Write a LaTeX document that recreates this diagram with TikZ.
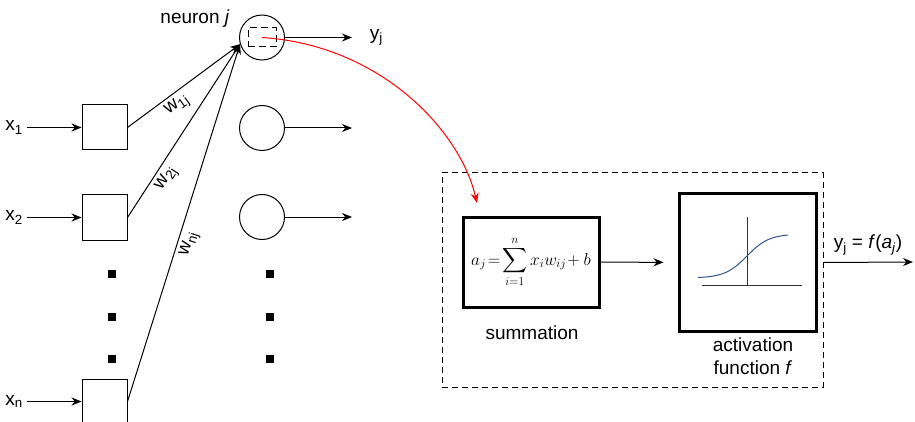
\documentclass[tikz,border=0pt]{standalone}
\usepackage{amsmath}
\usepackage{fontspec}
\setmainfont{Liberation Sans}
\usepackage{tikz}
\usetikzlibrary{arrows.meta}
\definecolor{curveblue}{RGB}{47,82,143}

\begin{document}
\begin{tikzpicture}[x=1pt,y=-1pt,>={Stealth[length=10pt,width=8pt]},line width=1pt,font=\fontsize{19}{23}\selectfont,
  inbox/.style={draw,minimum size=45pt,inner sep=0pt},
  neuron/.style={draw,circle,minimum size=45pt,inner sep=0pt},
  dotbox/.style={fill,minimum size=8pt,inner sep=0pt},
  block/.style={draw,line width=3pt,inner sep=0pt}]
\useasboundingbox(0,0)rectangle(915,422);
% inputs
\node[inbox](in1)at(104.5,127.5){};
\node[inbox](in2)at(104.5,217.5){};
\node[inbox](inn)at(104.5,401.5){};
\node(x1)at(14,127.5){x\textsubscript{1}};
\node(x2)at(14,217.5){x\textsubscript{2}};
\node(xn)at(14,401.5){x\textsubscript{n}};
\draw[->](x1)--(in1);
\draw[->](x2)--(in2);
\draw[->](xn)--(inn);
% neurons
\node[neuron](nj)at(262,37.5){};
\node[neuron](n2)at(262,128){};
\node[neuron](n3)at(262,217){};
\node[draw,dash pattern=on 7pt off 4pt,minimum width=28pt,minimum height=19pt](core)at(262,37.5){};
\node at(195,19){neuron \textit{j}};
\coordinate(o1)at(352,37.5);
\coordinate(o2)at(352,128);
\coordinate(o3)at(352,217);
\draw[->](nj)--(o1)node[right,xshift=14pt]{y\textsubscript{j}};
\draw[->](n2)--(o2);
\draw[->](n3)--(o3);
% weights
\draw[->](in1.east)--node[sloped,below,pos=0.38]{w\textsubscript{1j}}(nj.197);
\draw[->](in2.east)--node[sloped,below,pos=0.26]{w\textsubscript{2j}}(nj.197);
\draw[->](inn.east)--node[sloped,below,pos=0.45]{w\textsubscript{nj}}(nj.197);
\foreach \y in {274,317,359}{
  \node[dotbox](dl\y)at(112,\y){};
  \node[dotbox](dr\y)at(270,\y){};
}
% neuron detail
\node[draw,dash pattern=on 6pt off 4pt,minimum width=381pt,minimum height=214pt](unit)at(632.5,280){};
\node[block,minimum width=136pt,minimum height=90pt](sum)at(531,262)
  {\fontsize{17.5}{20}\selectfont$\displaystyle a_j\!=\!\sum_{i=1}^{n}x_iw_{ij}\!+b$};
\node[block,minimum width=137pt,minimum height=137pt](act)at(747.5,262.5){};
\node at(532,333){summation};
\node[align=center]at(753,356){activation\\function \textit{f}};
\draw[->,shorten >=14pt](sum)--(act);
\coordinate(yout)at(913,262);
\draw[->](unit.east|-act.center)--(yout);
\node at(868,245){y\textsubscript{j} = \textit{f}(\textit{a}\textsubscript{\textit{j}})};
\draw[black!80](702,285)--(802,285);
\draw[black!80](747,217)--(747,285);
\draw[curveblue,domain=698:788,samples=60]plot(\x,{256-22*tanh((\x-747)/22)});
\coordinate(rtip)at(477,203);
\draw[red,->](core.center)..controls(380,45)and(460,130)..(rtip);
\end{tikzpicture}
\end{document}
